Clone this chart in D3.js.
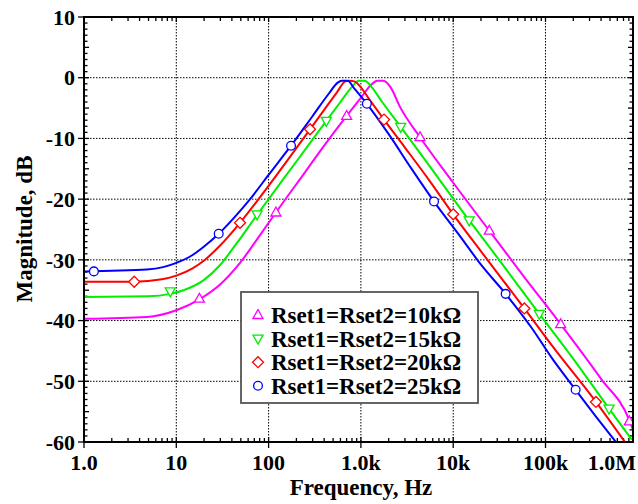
<!DOCTYPE html>
<html>
<head>
  <script src="https://cdnjs.cloudflare.com/ajax/libs/d3/7.8.5/d3.min.js"></script>
  <style>
    body { margin: 0; background: #fff; }
    svg { display: block; }
    text { font-family: "Liberation Serif", "Times New Roman", serif; font-weight: bold; fill: #000; }
  </style>
</head>
<body>
<svg id="chart" width="638" height="504"></svg>
<script>
  // values: [frequency Hz, magnitude dB]
  var curve10k = [[1,-39.7],[4.8,-39.4],[10,-38.3],[17.8,-36.5],[29.6,-34.1],[49,-30.5],[80,-26.0],[120,-22.2],[250,-15.5],[400,-11.2],[701,-6.3],[1000,-3.3],[1300,-1.1],[1500,-0.5],[1750,-0.5],[2100,-1.6],[2650,-4.8],[4370,-9.8],[10000,-17.3],[24600,-25.2],[60000,-33.0],[146000,-40.6],[400000,-49.6],[809000,-56.4],[887000,-58.0]];
  var curve15k = [[1,-36.1],[5,-36.0],[8.6,-35.6],[12,-35.0],[20,-33.3],[30,-30.8],[45,-27.3],[75,-22.6],[100,-20.0],[200,-13.8],[422,-7.1],[600,-4.0],[800,-1.5],[950,-0.5],[1100,-0.5],[1300,-1.5],[1700,-4.0],[2700,-8.1],[5000,-13.6],[14900,-23.5],[30000,-29.6],[85700,-38.9],[200000,-46.3],[488000,-54.5],[860000,-59.6]];
  var curve20k = [[1,-33.6],[3.5,-33.6],[7,-33.2],[10,-32.6],[15,-31.4],[20,-30.1],[30,-27.6],[49,-23.9],[100,-17.8],[281,-8.5],[400,-5.3],[550,-2.4],[680,-0.6],[760,-0.5],[850,-0.6],[1000,-1.6],[1200,-3.3],[1780,-6.9],[3000,-11.5],[5500,-16.9],[10000,-22.5],[20000,-28.6],[59000,-38.0],[120000,-44.3],[352000,-53.4],[740000,-60.2]];
  var curve25k = [[1,-31.9],[2,-31.8],[4.8,-31.6],[7.2,-31.2],[10,-30.5],[15,-29.2],[20,-27.8],[28.8,-25.7],[50,-21.8],[63,-20.0],[100,-16.0],[175,-11.2],[300,-6.3],[450,-2.6],[560,-0.8],[620,-0.5],[720,-0.5],[850,-1.8],[1160,-4.3],[2000,-9.3],[3500,-14.9],[6200,-20.4],[12000,-26.2],[20000,-30.8],[37000,-35.6],[70000,-41.1],[120000,-46.4],[212000,-51.4],[400000,-56.9],[600000,-60.3]];

  var marks10k = [[17.8,-36.4],[120,-22.2],[701,-6.3],[4370,-9.8],[24600,-25.2],[146000,-40.6],[809000,-56.6]];
  var marks15k = [[8.6,-35.2],[75,-22.5],[422,-7.1],[2700,-8.1],[14900,-23.5],[85700,-38.9],[488000,-54.5]];
  var marks20k = [[3.5,-33.6],[49,-23.9],[281,-8.5],[1780,-6.9],[10000,-22.5],[59000,-38.0],[352000,-53.4]];
  var marks25k = [[1.28,-31.9],[28.8,-25.7],[175,-11.2],[1160,-4.3],[6200,-20.4],[37000,-35.6],[212000,-51.4]];

  var seriesNames = ["Rset1=Rset2=10k\u03A9", "Rset1=Rset2=15k\u03A9", "Rset1=Rset2=20k\u03A9", "Rset1=Rset2=25k\u03A9"];
  var seriesColors = ["#ff00ff", "#00ee00", "#ff0000", "#0000ff"];
  var seriesSymbols = ["up", "down", "diamond", "circle"];

  var xTicks = [1, 10, 100, 1000, 10000, 100000, 1000000];
  var xTickLabels = ["1.0", "10", "100", "1.0k", "10k", "100k", "1.0M"];
  var yTicks = [10, 0, -10, -20, -30, -40, -50, -60];

  var svg = d3.select("#chart");
  var L = 84, R = 633, T = 17, B = 442;

  var x = d3.scaleLog().domain([1, 887000]).range([L, R]);
  var y = d3.scaleLinear().domain([-60, 10]).range([B, T]);

  // grid
  var grid = svg.append("g").attr("stroke", "#000").attr("stroke-width", 1).attr("stroke-dasharray", "1.5,1.5");
  xTicks.filter(function(d){ return d > 1 && d < 887000; }).forEach(function(d){
    grid.append("line").attr("x1", x(d)).attr("x2", x(d)).attr("y1", T).attr("y2", B);
  });
  yTicks.filter(function(d){ return d < 10 && d > -60; }).forEach(function(d){
    grid.append("line").attr("x1", L).attr("x2", R).attr("y1", y(d)).attr("y2", y(d));
  });

  // ticks
  var tk = svg.append("g").attr("stroke", "#000").attr("stroke-width", 1.3);
  var minorX = [];
  for (var dec = 1; dec < 1000000; dec *= 10) {
    for (var m = 2; m <= 9; m++) if (dec * m < 887000) minorX.push(dec * m);
  }
  minorX.forEach(function(d){
    tk.append("line").attr("x1", x(d)).attr("x2", x(d)).attr("y1", B).attr("y2", B - 4);
    tk.append("line").attr("x1", x(d)).attr("x2", x(d)).attr("y1", T).attr("y2", T + 4);
  });
  xTicks.filter(function(d){ return d < 887000; }).forEach(function(d){
    tk.append("line").attr("x1", x(d)).attr("x2", x(d)).attr("y1", B - 5).attr("y2", B + 6);
    tk.append("line").attr("x1", x(d)).attr("x2", x(d)).attr("y1", T).attr("y2", T + 5);
  });
  d3.range(-60, 11, 1).forEach(function(d){
    var len = d % 10 === 0 ? 0 : (d % 5 === 0 ? 5 : 3.5);
    if (len) {
      tk.append("line").attr("x1", L).attr("x2", L + len).attr("y1", y(d)).attr("y2", y(d));
      tk.append("line").attr("x1", R).attr("x2", R - len).attr("y1", y(d)).attr("y2", y(d));
    }
  });
  yTicks.forEach(function(d){
    tk.append("line").attr("x1", L - 6).attr("x2", L + 5).attr("y1", y(d)).attr("y2", y(d));
    tk.append("line").attr("x1", R - 5).attr("x2", R).attr("y1", y(d)).attr("y2", y(d));
  });

  // curves
  var clip = svg.append("clipPath").attr("id", "plotclip");
  clip.append("rect").attr("x", L).attr("y", T).attr("width", R - L).attr("height", B - T);

  var line = d3.line()
    .x(function(d){ return x(d[0]); })
    .y(function(d){ return y(d[1]); })
    .curve(d3.curveMonotoneX);

  var curves = [curve10k, curve15k, curve20k, curve25k];
  var marks = [marks10k, marks15k, marks20k, marks25k];

  var plot = svg.append("g").attr("clip-path", "url(#plotclip)");
  curves.forEach(function(c, i){
    plot.append("path").datum(c)
      .attr("d", line)
      .attr("fill", "none")
      .attr("stroke", seriesColors[i])
      .attr("stroke-width", 2);
  });

  function symbolPath(kind) {
    if (kind === "up") return "M0,-5.5L5,3.5L-5,3.5Z";
    if (kind === "down") return "M0,5.5L5,-3.5L-5,-3.5Z";
    if (kind === "diamond") return "M0,-5.5L5.5,0L0,5.5L-5.5,0Z";
    return d3.symbol().type(d3.symbolCircle).size(60)();
  }

  marks.forEach(function(ms, i){
    plot.selectAll(null).data(ms).enter().append("path")
      .attr("transform", function(d){ return "translate(" + x(d[0]) + "," + y(d[1]) + ")"; })
      .attr("d", symbolPath(seriesSymbols[i]))
      .attr("fill", "#fff")
      .attr("stroke", seriesColors[i])
      .attr("stroke-width", 1.3);
  });

  // frame
  svg.append("rect").attr("x", L).attr("y", T).attr("width", R - L).attr("height", B - T)
    .attr("fill", "none").attr("stroke", "#000").attr("stroke-width", 2);

  // tick labels
  xTicks.forEach(function(d, i){
    var t = svg.append("text").attr("y", 470).attr("font-size", 22).text(xTickLabels[i]);
    if (d >= 1000000) t.attr("x", 636).attr("text-anchor", "end");
    else t.attr("x", x(d)).attr("text-anchor", "middle");
  });
  yTicks.forEach(function(d){
    svg.append("text").attr("x", 75).attr("y", y(d)).attr("dy", "0.35em")
      .attr("text-anchor", "end").attr("font-size", 22).text(d);
  });

  svg.append("text").attr("x", 361).attr("y", 495).attr("text-anchor", "middle")
    .attr("font-size", 23).text("Frequency, Hz");
  svg.append("text").attr("transform", "translate(32,229) rotate(-90)")
    .attr("text-anchor", "middle").attr("font-size", 23).text("Magnitude, dB");

  // legend
  var lg = svg.append("g");
  lg.append("rect").attr("x", 241).attr("y", 292).attr("width", 237).attr("height", 111)
    .attr("fill", "#fff").attr("stroke", "#555").attr("stroke-width", 1.8);
  seriesNames.forEach(function(n, i){
    var cy = 315 + i * 23.6;
    lg.append("path").attr("transform", "translate(258," + cy + ")")
      .attr("d", symbolPath(seriesSymbols[i]))
      .attr("fill", "#fff").attr("stroke", seriesColors[i]).attr("stroke-width", 1.3);
    lg.append("text").attr("x", 271).attr("y", cy).attr("dy", "0.35em")
      .attr("font-size", 23).text(n);
  });
</script>
</body>
</html>
